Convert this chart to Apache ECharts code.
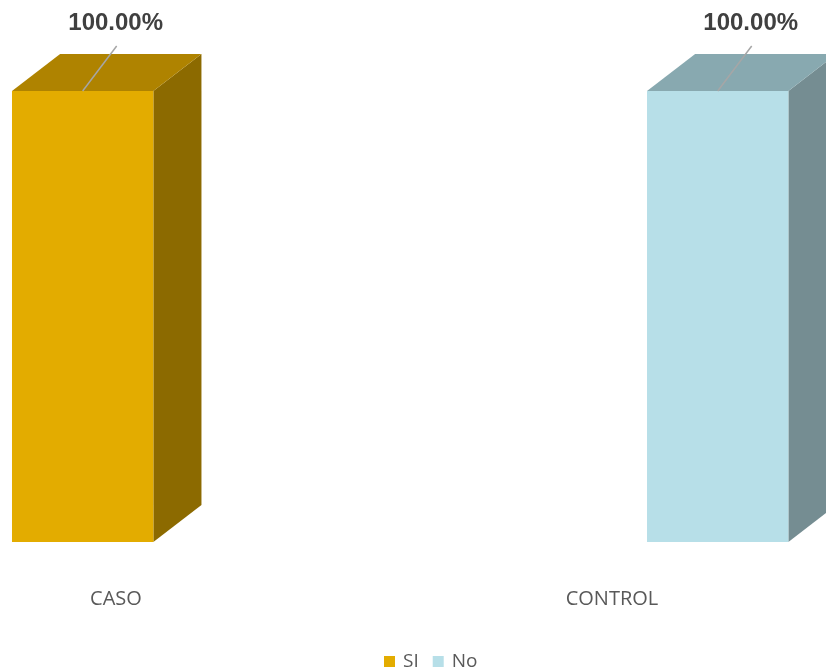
<!DOCTYPE html>
<html>
<head>
<meta charset="utf-8">
<script src="https://cdn.jsdelivr.net/npm/echarts@6/dist/echarts.min.js"></script>
<style>
  html, body { margin: 0; padding: 0; background: #ffffff; }
  #chart { width: 826px; height: 671px; }
</style>
</head>
<body>
<div id="chart"></div>
<script>
// Categories and series values (percent)
const categories = ['CASO', 'CONTROL'];
const seriesNames = ['SI', 'No'];
const siValues = [100, 0];
const noValues = [0, 100];

// Face colours for the 3D boxes: front, top, side
const palette = {
  SI: { front: '#E3AC00', top: '#AF8300', side: '#8C6A00' },
  No: { front: '#B7DFE8', top: '#88A9B0', side: '#758D92' }
};

// Position of each series' box relative to its category (fractions of category spacing)
const slot = { SI: -0.2097, No: 0.0706 };
const boxWidth = 0.285;
const depthX = 0.097;   // fraction of category spacing
const depthY = 37;      // px

function makeRender(name) {
  const c = palette[name];
  return function (params, api) {
    const v = api.value(1);
    if (!v) return null;
    const top = api.coord([api.value(0), v]);
    const base = api.coord([api.value(0), 0]);
    const band = api.size([1, 0])[0];
    const l = top[0] + slot[name] * band;
    const w = boxWidth * band;
    const dx = depthX * band;
    const t = top[1], b = base[1];
    const mid = l + w / 2;
    return {
      type: 'group',
      children: [
        { type: 'polygon', shape: { points: [[l + w, t], [l + w + dx, t - depthY], [l + w + dx, b - depthY], [l + w, b]] }, style: { fill: c.side } },
        { type: 'polygon', shape: { points: [[l, t], [l + w, t], [l + w + dx, t - depthY], [l + dx, t - depthY]] }, style: { fill: c.top } },
        { type: 'rect', shape: { x: l, y: t, width: w, height: b - t }, style: { fill: c.front } },
        { type: 'line', shape: { x1: mid, y1: t, x2: mid + 34, y2: t - 45 }, style: { stroke: '#A6A6A6', lineWidth: 1.5 } },
        { type: 'text', x: mid + 33, y: t - 68, style: {
            text: v.toFixed(2) + '%', fill: '#404040', align: 'center', verticalAlign: 'middle',
            font: 'bold 24px "Liberation Sans", Arial, sans-serif' } }
      ]
    };
  };
}

const chart = echarts.init(document.getElementById('chart'));
chart.setOption({
  animation: false,
  backgroundColor: '#ffffff',
  grid: { left: 116, right: 214, top: 91, bottom: 129, containLabel: false },
  legend: {
    top: 652, left: 384, padding: 0,
    icon: 'rect', itemWidth: 11, itemHeight: 11, itemGap: 14,
    textStyle: { color: '#595959', fontSize: 19, fontFamily: '"Open Sans", sans-serif', padding: [0, 0, 0, 3] },
    data: seriesNames
  },
  xAxis: {
    type: 'category', data: categories, boundaryGap: false,
    axisLine: { show: false }, axisTick: { show: false }, splitLine: { show: false },
    axisLabel: { margin: 47, color: '#595959', fontSize: 20, fontFamily: '"Open Sans", sans-serif' }
  },
  yAxis: { type: 'value', min: 0, max: 100, show: false, splitLine: { show: false } },
  series: [
    { name: 'SI', type: 'custom', clip: false, itemStyle: { color: palette.SI.front },
      renderItem: makeRender('SI'), data: siValues.map((v, i) => [i, v]) },
    { name: 'No', type: 'custom', clip: false, itemStyle: { color: palette.No.front },
      renderItem: makeRender('No'), data: noValues.map((v, i) => [i, v]) }
  ]
});
</script>
</body>
</html>
